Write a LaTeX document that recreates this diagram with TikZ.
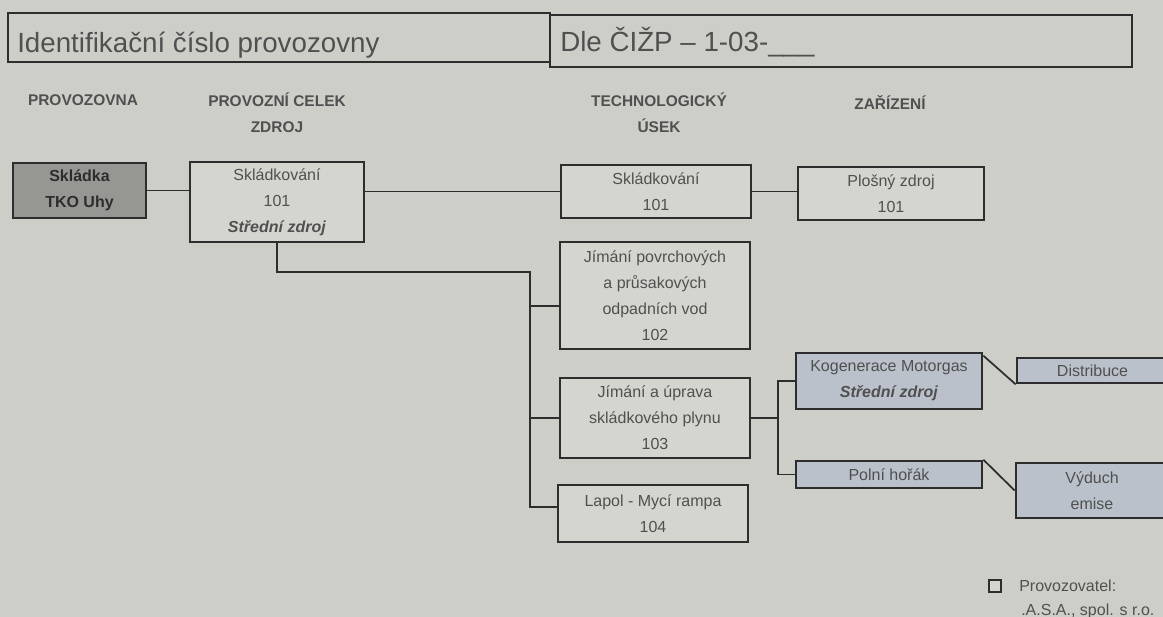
\documentclass[tikz,border=0pt]{standalone}
\usepackage{fontspec}
\setmainfont{Liberation Sans}

\definecolor{papir}{RGB}{206,206,200}
\definecolor{boxfill}{RGB}{213,213,207}
\definecolor{provfill}{RGB}{150,150,146}
\definecolor{modra}{RGB}{186,193,203}
\definecolor{ink}{RGB}{45,45,45}
\definecolor{textgray}{RGB}{80,80,80}

\tikzset{
  hdrtext/.style={anchor=base west, inner sep=0pt, text=textgray,
    font=\fontsize{20.8}{25}\selectfont},
  colhead/.style={inner sep=0pt, align=center, text=textgray,
    font=\bfseries\fontsize{11.6}{19.5}\selectfont},
  box/.style={draw=ink, line width=2pt, fill=boxfill, inner sep=0pt,
    align=center, text=textgray, font=\fontsize{12}{19.5}\selectfont},
  tech/.style={box, minimum width=142.5pt},
  zar/.style={box, fill=modra, minimum width=139.5pt},
  conn/.style={draw=ink, line width=1.3pt}
}

\begin{document}
\begin{tikzpicture}[x=0.75pt,y=-0.75pt]
        % Fondo
        \useasboundingbox (0,0) rectangle (1163,617);
        \clip (0,0) rectangle (1163,617);
        \fill[papir] (0,0) rectangle (1163,617);

        % Cabecera
        \draw[ink, line width=1pt] (8,13) rectangle (550,62);
        \draw[ink, line width=1pt] (550,15) rectangle (1132,67);
        \node[hdrtext] (idtxt) at (17,53) {Identifikační číslo provozovny};
        \node[hdrtext] (cizp) at (560,52) {Dle ČIŽP – 1-03-\_\_\_};

        % Títulos de columnas
        \node[colhead] (hprov) at (83,100) {PROVOZOVNA};
        \node[colhead] (hcelek) at (277,113) {PROVOZNÍ CELEK\\ZDROJ};
        \node[colhead] (husek) at (659,113) {TECHNOLOGICKÝ\\ÚSEK};
        \node[colhead] (hzar) at (890,103) {ZAŘÍZENÍ};

        % Provozovna y provozní celek
        \node[box, fill=provfill, text=ink, font=\bfseries\fontsize{12}{19.5}\selectfont,
          minimum width=99.75pt, minimum height=41.25pt] (prov) at (79.5,190.5) {Skládka\\TKO Uhy};
        \node[box, minimum width=130.5pt, minimum height=60pt] (pc) at (277,202)
          {Skládkování\\101\\\textbf{\textit{Střední zdroj}}};

        % Technologické úseky
        \node[tech, minimum height=39.75pt] (skl) at (656,191.5) {Skládkování\\101};
        \node[tech, minimum height=80.25pt] (jim) at (655,295.5)
          {Jímání povrchových\\a průsakových\\odpadních vod\\102};
        \node[tech, minimum height=60pt] (upr) at (655,418)
          {Jímání a úprava\\skládkového plynu\\103};
        \node[tech, minimum height=42.75pt] (lap) at (653,513.5) {Lapol - Mycí rampa\\104};

        % Zařízení
        \node[box, minimum width=139.5pt, minimum height=39.75pt] (plo) at (891,193.5) {Plošný zdroj\\101};
        \node[zar, minimum height=42pt] (kog) at (889,381)
          {Kogenerace Motorgas\\\textbf{\textit{Střední zdroj}}};
        \node[zar, minimum height=20.25pt] (hor) at (889,474.5) {Polní hořák};
        \node[box, fill=modra, minimum width=113.25pt, minimum height=18.75pt] (dis) at (1092.5,370.5) {Distribuce};
        \node[box, fill=modra, minimum width=114pt, minimum height=41.25pt] (vyd) at (1092,490.5) {Výduch\\emise};

        % Conexiones
        \coordinate (bus) at (530,272);
        \coordinate (split) at (778,418);
        \coordinate (jimin) at ([yshift=-8pt]jim.west);
        \coordinate (lapin) at ([yshift=5pt]lap.west);
        \draw[conn] (prov.east) -- (prov.east -| pc.west);
        \draw[conn] (pc.east |- skl.west) -- (skl.west);
        \draw[conn] (skl.east) -- (skl.east -| plo.west);
        \draw[conn] (pc.south) |- (bus) -- (bus |- lapin) -- (lapin);
        \draw[conn] (bus |- jimin) -- (jimin);
        \draw[conn] (bus |- upr.west) -- (upr.west);
        \draw[conn] (upr.east) -- (split);
        \draw[conn] (kog.west) -| (split) |- (hor.west);
        \draw[conn] ([yshift=-3pt]kog.north east) -- (dis.south west);
        \draw[conn] (hor.north east) -- (vyd.west);

        % Leyenda
        \node[draw=ink, line width=1.3pt, fill=boxfill, minimum size=9pt, inner sep=0pt] (legsq) at (995,586) {};
        \node[anchor=west, inner sep=0pt, text=textgray, font=\fontsize{12}{14}\selectfont] (legprov) at (1019,586) {Provozovatel:};
        \node[anchor=west, inner sep=0pt, text=textgray, font=\fontsize{12}{14}\selectfont] (legfirma) at (1021,611) {.A.S.A., spol. s r.o.};
    \end{tikzpicture}
\end{document}
